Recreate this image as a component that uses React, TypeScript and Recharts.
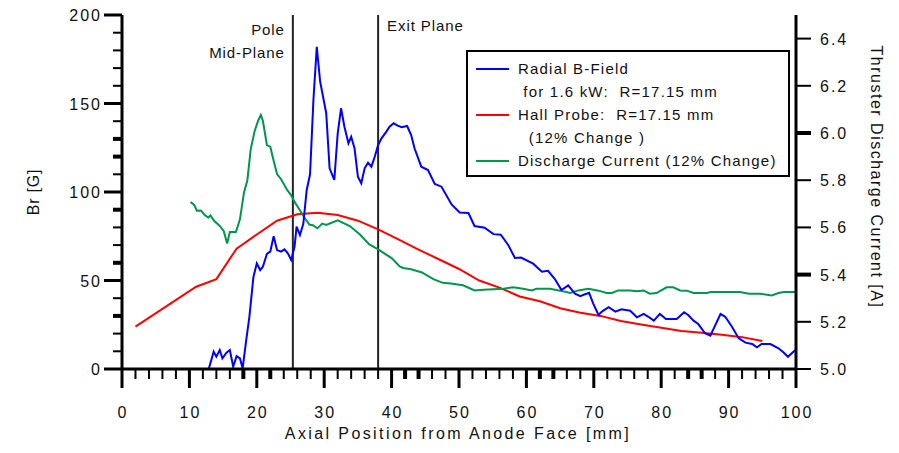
import React from "react";
import { LineChart, Line, XAxis, YAxis, ReferenceLine, Legend } from "recharts";

// Radial B-field, 1.6 kW, R = 17.15 mm  (Br [G])
const bFieldPos = [
  12.9, 13.6, 14.0, 14.5, 14.9, 15.5, 16.0, 16.5, 17.0, 17.5, 17.9, 18.4, 18.9, 19.5, 20.0, 20.5, 20.9,
  21.5, 22.0, 22.5, 23.0, 23.6, 24.1, 24.6, 25.1, 25.6, 25.9, 26.4, 26.9, 27.4, 27.9, 28.4, 28.9, 29.4,
  30.3, 30.8, 31.5, 32.0, 32.5, 33.0, 33.6, 34.0, 34.5, 35.0, 35.5, 36.0, 36.5, 37.0, 37.5, 38.0, 38.5,
  39.2, 39.7, 40.3, 40.9, 41.5, 42.3, 42.9, 43.4, 44.4, 45.4, 46.4, 47.4, 48.9, 50.1, 51.4, 52.3, 53.8,
  55.1, 56.2, 57.3, 58.3, 59.2, 61.0, 62.3, 63.2, 64.2, 65.2, 66.2, 67.2, 68.0, 68.4, 69.3, 69.9, 70.7,
  71.2, 72.2, 73.2, 74.1, 75.4, 76.4, 77.4, 78.1, 78.9, 79.8, 80.7, 82.3, 83.4, 84.0, 84.8, 85.5, 86.5,
  87.3, 87.8, 88.8, 89.5, 90.5, 91.5, 92.5, 93.5, 94.2, 94.9, 96.2, 97.4, 98.2, 98.8, 99.9,
];
const bFieldBr = [
  0.4, 9.8, 7, 10.7, 6, 9.2, 10.7, 1.3, 7.3, 6, 0.4, 15.4, 29.5, 52, 59.7, 55.9, 57.8,
  65, 66.3, 75, 67.2, 66.3, 67.6, 65.4, 61.6, 69, 80.4, 75.7, 82, 101, 110, 152, 182, 162.3,
  144.5, 113.4, 106.8, 133, 147.3, 136.9, 127.5, 131.2, 124.7, 108.6, 104.9, 113.4, 116.6, 114.3, 119.9, 126.6, 130.3,
  134, 136.9, 138.8, 137.5, 136.6, 137.3, 132.2, 124.7, 114.3, 112.4, 104.5, 103, 93, 88.4, 88.1, 80.8, 79.8,
  76.2, 75.9, 70.1, 62.7, 63, 59.5, 55, 55.5, 51, 44.6, 47.2, 42.6, 41.2, 41.8, 43.1, 37.1, 30.5,
  32.4, 34.9, 32.4, 33.7, 32.9, 29.2, 31.1, 29.5, 27.3, 31.1, 28.2, 28.2, 32, 30.5, 27.3, 25.4, 20.2,
  18.8, 23, 31.1, 29.5, 23.9, 17.3, 14.9, 14.1, 12.3, 14.1, 14.1, 11.7, 9.2, 6.9, 10.7,
];

// Hall probe, R = 17.15 mm (Br [G])
const hallPos = [2, 11, 14, 17, 20, 23, 26, 29, 32, 35, 38, 41, 44, 47, 50, 53, 56, 59, 62, 65, 68, 71, 74, 77, 80, 83, 86, 89, 92, 95];
const hallBr = [23.9, 46.5, 50.8, 68, 76, 83.8, 87.4, 88.3, 87, 83.8, 78.9, 73.2, 67.5, 62, 56.5, 50, 46, 41, 38.3, 34.3, 31.8, 30, 27.1, 25.1, 23.3, 21.5, 20.5, 19.3, 18, 15.8];

// Thruster discharge current [A]
const currentPos = [
  10.15, 10.75, 11.1, 11.7, 12.2, 12.8, 13.1, 13.7, 14.5, 15.1, 15.6, 16.0, 16.9, 17.5, 18.1, 18.6, 19.1,
  19.7, 20.2, 20.6, 20.9, 21.5, 22.0, 22.5, 23.0, 23.6, 24.5, 25.1, 25.6, 26.3, 27.1, 27.8, 28.3, 29.0,
  29.7, 30.3, 32.0, 33.8, 35.3, 36.7, 38.0, 39.2, 40.0, 41.2, 41.7, 42.9, 44.5, 46.2, 47.6, 48.8, 50.6,
  52.3, 53.6, 56.6, 58.0, 59.5, 60.8, 61.5, 63.5, 65.0, 66.5, 67.7, 69.2, 70.7, 71.9, 72.7, 73.6, 75.4,
  76.4, 77.4, 78.3, 79.3, 80.8, 81.8, 82.8, 83.8, 84.8, 86.8, 87.3, 91.7, 93.0, 94.7, 96.4, 97.4, 98.2, 99.9,
];
const currentAmps = [
  5.708, 5.694, 5.671, 5.672, 5.655, 5.641, 5.651, 5.627, 5.606, 5.584, 5.532, 5.58, 5.58, 5.634, 5.748, 5.8, 5.932,
  6.01, 6.052, 6.077, 6.052, 5.949, 5.942, 5.882, 5.826, 5.804, 5.759, 5.736, 5.708, 5.677, 5.64, 5.612, 5.609, 5.596,
  5.616, 5.61, 5.63, 5.606, 5.57, 5.528, 5.507, 5.485, 5.47, 5.435, 5.428, 5.423, 5.409, 5.381, 5.365, 5.362, 5.355,
  5.333, 5.336, 5.34, 5.346, 5.34, 5.333, 5.34, 5.34, 5.332, 5.322, 5.333, 5.34, 5.332, 5.322, 5.322, 5.333, 5.333,
  5.329, 5.333, 5.319, 5.322, 5.346, 5.346, 5.333, 5.332, 5.322, 5.322, 5.326, 5.326, 5.319, 5.319, 5.312, 5.322, 5.326, 5.326,
];

const xLabels = [0, 10, 20, 30, 40, 50, 60, 70, 80, 90, 100];
const brLabels = [0, 50, 100, 150, 200];
const ampTicks = [5.0, 5.2, 5.4, 5.6, 5.8, 6.0, 6.2, 6.4];
const poleMidPlane = 25.35;
const exitPlane = 38;

// ticks that print heavier in the original
const heavyX = [18, 22, 42, 44, 62, 64, 84, 86];
const heavyBr = [30, 60, 90, 120, 130];
const heavyAmp = [5.4, 6.0];

const legendRows = [
  { color: "#0000ff", lines: ["Radial B-Field", " for 1.6 kW:  R=17.15 mm"] },
  { color: "#ff0000", lines: ["Hall Probe:  R=17.15 mm", "  (12% Change )"] },
  { color: "#00964b", lines: ["Discharge Current (12% Change)"] },
];

const FONT = "'Liberation Sans', Arial, Helvetica, sans-serif";

const zip = (xs: number[], ys: number[]) => xs.map((x, i) => ({ x, y: ys[i] }));
const bFieldData = zip(bFieldPos, bFieldBr);
const hallData = zip(hallPos, hallBr);
const currentData = zip(currentPos, currentAmps);

// minor ticks every 2 mm / 10 G
const xTicks = Array.from({ length: 51 }, (_, i) => i * 2);
const brTicks = Array.from({ length: 21 }, (_, i) => i * 10);

function BottomTick({ x, y, payload }: any) {
  const v = payload.value;
  const major = xLabels.includes(v);
  const heavy = heavyX.includes(v);
  return (
    <g>
      <line
        x1={x}
        x2={x}
        y1={y}
        y2={y + (major ? 19 : 10)}
        stroke="#000"
        strokeWidth={major ? 3 : heavy ? 4 : 2}
      />
      {major && (
        <text x={x + 1} y={y + 49} textAnchor="middle" fontSize={16} letterSpacing={2} fontFamily={FONT} fill="#111">
          {v}
        </text>
      )}
    </g>
  );
}

function LeftTick({ x, y, payload }: any) {
  const v = payload.value;
  const major = brLabels.includes(v);
  const heavy = heavyBr.includes(v);
  return (
    <g>
      <line
        x1={x}
        x2={x - (major ? 18 : 9)}
        y1={y}
        y2={y}
        stroke="#000"
        strokeWidth={major ? 3 : heavy ? 4 : 2}
      />
      {major && (
        <text x={x - 20} y={y + 6} textAnchor="end" fontSize={16} letterSpacing={2} fontFamily={FONT} fill="#111">
          {v}
        </text>
      )}
    </g>
  );
}

function RightTick({ x, y, payload }: any) {
  const v = Number(payload.value);
  const heavy = heavyAmp.some((h) => Math.abs(h - v) < 1e-6);
  return (
    <g>
      <line x1={x} x2={x + 15} y1={y} y2={y} stroke="#000" strokeWidth={heavy ? 4 : 2} />
      <text x={x + 24} y={y + 6} fontSize={16} letterSpacing={2} fontFamily={FONT} fill="#111">
        {v.toFixed(1)}
      </text>
    </g>
  );
}

function renderLegend() {
  return (
    <div
      style={{
        border: "2px solid #000",
        background: "#fff",
        boxSizing: "border-box",
        width: 324,
        height: 127,
        paddingTop: 5,
        fontFamily: FONT,
        fontSize: 15,
        letterSpacing: 1.2,
        color: "#111",
      }}
    >
      {legendRows.map((row) =>
        row.lines.map((txt, j) => (
          <div key={txt} style={{ position: "relative", height: 23, lineHeight: "23px", whiteSpace: "pre" }}>
            {j === 0 && (
              <span
                style={{ position: "absolute", left: 8, top: 11, width: 33, height: 2, background: row.color }}
              />
            )}
            <span style={{ position: "absolute", left: 50 }}>{txt}</span>
          </div>
        ))
      )}
    </div>
  );
}

export default function App() {
  return (
    <div style={{ position: "absolute", left: 0, top: 0, background: "#fff" }}>
      <LineChart width={899} height={453} margin={{ top: 15, right: 0, bottom: 0, left: 0 }}>
        <XAxis
          type="number"
          dataKey="x"
          domain={[0, 100]}
          ticks={xTicks}
          interval={0}
          allowDataOverflow
          height={84}
          tickSize={0}
          tickMargin={0}
          tickLine={false}
          axisLine={{ stroke: "#000", strokeWidth: 3 }}
          tick={<BottomTick />}
          label={() => (
            <text x={458} y={439} textAnchor="middle" fontSize={16} letterSpacing={2.4} fontFamily={FONT} fill="#111">
              Axial Position from Anode Face [mm]
            </text>
          )}
        />
        <YAxis
          yAxisId="br"
          orientation="left"
          domain={[0, 200]}
          ticks={brTicks}
          interval={0}
          allowDataOverflow
          width={122}
          tickSize={0}
          tickMargin={0}
          tickLine={false}
          axisLine={{ stroke: "#000", strokeWidth: 3 }}
          tick={<LeftTick />}
          label={() => (
            <text
              x={33}
              y={192}
              transform="rotate(-90 33 192)"
              textAnchor="middle"
              dominantBaseline="central"
              fontSize={16}
              letterSpacing={0.8}
              fontFamily={FONT}
              fill="#111"
            >
              Br [G]
            </text>
          )}
        />
        <YAxis
          yAxisId="amp"
          orientation="right"
          domain={[5.0, 6.5]}
          ticks={ampTicks}
          interval={0}
          allowDataOverflow
          width={103}
          tickSize={0}
          tickMargin={0}
          tickLine={false}
          axisLine={{ stroke: "#000", strokeWidth: 3 }}
          tick={<RightTick />}
          label={() => (
            <text
              x={876}
              y={177}
              transform="rotate(90 876 177)"
              textAnchor="middle"
              dominantBaseline="central"
              fontSize={16}
              letterSpacing={1.5}
              fontFamily={FONT}
              fill="#111"
            >
              Thruster Discharge Current [A]
            </text>
          )}
        />
        <ReferenceLine
          yAxisId="br"
          x={poleMidPlane}
          stroke="#222"
          strokeWidth={2}
          label={(p: any) => (
            <g fontFamily={FONT} fontSize={15} letterSpacing={0.9} fill="#111">
              <text x={p.viewBox.x - 8} y={p.viewBox.y + 20} textAnchor="end">Pole</text>
              <text x={p.viewBox.x - 8} y={p.viewBox.y + 43} textAnchor="end">Mid-Plane</text>
            </g>
          )}
        />
        <ReferenceLine
          yAxisId="br"
          x={exitPlane}
          stroke="#222"
          strokeWidth={2}
          label={(p: any) => (
            <text x={p.viewBox.x + 9} y={p.viewBox.y + 16} fontFamily={FONT} fontSize={15} letterSpacing={0.9} fill="#111">
              Exit Plane
            </text>
          )}
        />
        <Line
          yAxisId="br"
          data={hallData}
          dataKey="y"
          type="linear"
          stroke="#ff0000"
          strokeWidth={2}
          dot={false}
          isAnimationActive={false}
        />
        <Line
          yAxisId="amp"
          data={currentData}
          dataKey="y"
          type="linear"
          stroke="#00964b"
          strokeWidth={2}
          dot={false}
          isAnimationActive={false}
        />
        <Line
          yAxisId="br"
          data={bFieldData}
          dataKey="y"
          type="linear"
          stroke="#0000ff"
          strokeWidth={2}
          dot={false}
          isAnimationActive={false}
        />
        <Legend
          layout="horizontal"
          verticalAlign="middle"
          align="center"
          content={renderLegend}
          wrapperStyle={{ left: 466, top: 50, width: 324, height: 127 }}
        />
      </LineChart>
    </div>
  );
}
